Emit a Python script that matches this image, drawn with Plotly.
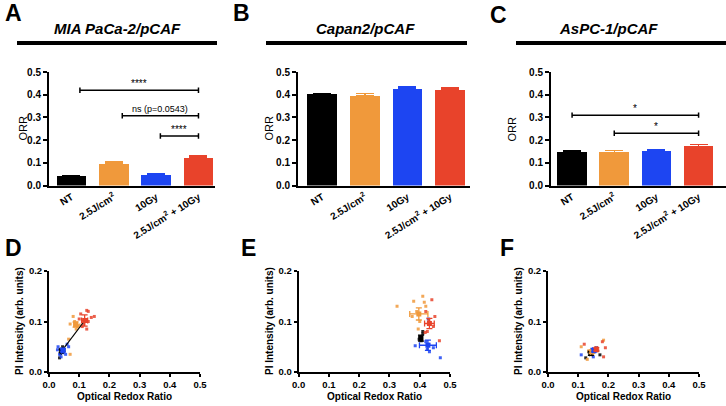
import plotly.graph_objects as go

W, H = 726, 406

# ---------------- data ----------------
categories = ["NT", "2.5J/cm<sup>2</sup>", "10Gy", "2.5J/cm<sup>2</sup> + 10Gy"]
colors = ["#000000", "#F0993B", "#1D45F2", "#E8432B"]
bar_titles = ["MIA PaCa-2/pCAF", "Capan2/pCAF", "AsPC-1/pCAF"]

orr_a = [0.042, 0.095, 0.048, 0.122]
err_a = [0.003, 0.008, 0.004, 0.009]
orr_b = [0.401, 0.394, 0.426, 0.422]
err_b = [0.004, 0.012, 0.009, 0.007]
orr_c = [0.149, 0.146, 0.153, 0.172]
err_c = [0.004, 0.008, 0.004, 0.009]

# significance brackets: (x start, x end, y, label)
brackets_a = [(0.2, 3.0, 0.42, "****"), (1.2, 3.0, 0.307, "ns (p=0.0543)"), (2.1, 3.0, 0.218, "****")]
brackets_b = []
brackets_c = [(0.0, 3.0, 0.31, "*"), (1.0, 3.0, 0.23, "*")]

# scatter panels: per group individual points (ORR, PI) and mean +/- error
d_pts = {
    "NT": ([0.040, 0.045, 0.035, 0.050, 0.045, 0.038], [0.045, 0.040, 0.028, 0.042, 0.050, 0.036]),
    "2.5": ([0.085, 0.070, 0.095, 0.080, 0.065, 0.070, 0.090, 0.100], [0.100, 0.095, 0.090, 0.110, 0.065, 0.035, 0.085, 0.093]),
    "10": ([0.030, 0.035, 0.050, 0.060, 0.045, 0.055, 0.040, 0.065, 0.028], [0.050, 0.035, 0.045, 0.055, 0.038, 0.035, 0.030, 0.050, 0.044]),
    "combo": ([0.105, 0.125, 0.130, 0.150, 0.140, 0.110, 0.125, 0.115, 0.100, 0.130], [0.115, 0.122, 0.120, 0.110, 0.108, 0.090, 0.085, 0.095, 0.105, 0.100]),
}
d_means = {"NT": (0.042, 0.042, 0.004, 0.003), "2.5": (0.088, 0.094, 0.005, 0.005),
           "10": (0.046, 0.043, 0.004, 0.003), "combo": (0.118, 0.102, 0.010, 0.011)}
d_fit_x = [0.040, 0.116]
d_fit_y = [0.040, 0.100]

e_pts = {
    "NT": ([0.400, 0.410, 0.405, 0.398, 0.410], [0.070, 0.075, 0.062, 0.065, 0.080]),
    "2.5": ([0.325, 0.380, 0.410, 0.415, 0.390, 0.400, 0.375, 0.420, 0.395], [0.130, 0.140, 0.150, 0.138, 0.120, 0.100, 0.110, 0.130, 0.085]),
    "10": ([0.385, 0.430, 0.425, 0.445, 0.468, 0.420, 0.428, 0.432], [0.052, 0.055, 0.045, 0.048, 0.028, 0.060, 0.105, 0.040]),
    "combo": ([0.440, 0.420, 0.430, 0.465, 0.445, 0.425, 0.418, 0.450], [0.143, 0.120, 0.103, 0.062, 0.090, 0.080, 0.078, 0.110]),
}
e_means = {"NT": (0.404, 0.067, 0.004, 0.006), "2.5": (0.397, 0.115, 0.030, 0.012),
           "10": (0.427, 0.053, 0.028, 0.010), "combo": (0.432, 0.096, 0.016, 0.010)}

f_pts = {
    "NT": ([0.140, 0.172, 0.125, 0.145, 0.135], [0.035, 0.034, 0.028, 0.042, 0.040]),
    "2.5": ([0.184, 0.130, 0.110, 0.150, 0.135, 0.160], [0.063, 0.025, 0.050, 0.040, 0.042, 0.048]),
    "10": ([0.110, 0.150, 0.160, 0.155, 0.145], [0.034, 0.030, 0.048, 0.040, 0.045]),
    "combo": ([0.120, 0.180, 0.190, 0.184, 0.160, 0.165], [0.055, 0.060, 0.048, 0.030, 0.045, 0.042]),
}
f_means = {"NT": (0.142, 0.037, 0.004, 0.004), "2.5": (0.145, 0.040, 0.004, 0.003),
           "10": (0.152, 0.043, 0.004, 0.003), "combo": (0.160, 0.045, 0.004, 0.003)}

groups = ["NT", "2.5", "10", "combo"]
group_color = dict(zip(groups, colors))

# ---------------- layout geometry ----------------
def px_x(p):
    return p / W

def px_y(p):
    return 1 - p / H

bar_xdom = [[px_x(49), px_x(215)], [px_x(298), px_x(470)], [px_x(551), 1.0]]
bar_xrng = [[-0.53, 3.39], [-0.57, 3.47], [-0.5, 3.65]]
bar_ydom = [px_y(185.5), px_y(72)]

sc_xdom = [[px_x(49), px_x(200)], [px_x(298.7), px_x(450)], [px_x(548), px_x(699)]]
sc_ydom = [px_y(372), px_y(271)]

FONT = "Liberation Sans"
fig = go.Figure()
layout = dict(width=W, height=H, margin=dict(l=0, r=0, t=0, b=0, pad=0, autoexpand=False),
              paper_bgcolor="white", plot_bgcolor="white", showlegend=False,
              font=dict(family=FONT, color="black"))
shapes = []
annotations = []

axis_common = dict(showgrid=False, zeroline=False, showline=True, linecolor="black", linewidth=2,
                   ticks="outside", ticklen=4, tickwidth=2, tickcolor="black", automargin=False,
                   tickfont=dict(family=FONT, size=10, color="black", weight="bold"))

bar_data = [(orr_a, err_a, brackets_a), (orr_b, err_b, brackets_b), (orr_c, err_c, brackets_c)]
for i, (vals, errs, brs) in enumerate(bar_data):
    n = i + 1
    xa = "x" if n == 1 else f"x{n}"
    ya = "y" if n == 1 else f"y{n}"
    for j in range(4):
        fig.add_trace(go.Bar(x=[j], y=[vals[j]], width=0.7, marker=dict(color=colors[j], line=dict(width=0)),
                             error_y=dict(type="data", array=[errs[j]], arrayminus=[0], symmetric=False,
                                          color=colors[j], thickness=1.5, width=9),
                             xaxis=xa, yaxis=ya))
    layout["xaxis" if n == 1 else f"xaxis{n}"] = dict(axis_common, domain=bar_xdom[i], range=bar_xrng[i],
                                                      anchor=ya, tickvals=[0, 1, 2, 3], ticktext=categories,
                                                      tickangle=-32, ticks="")
    layout["yaxis" if n == 1 else f"yaxis{n}"] = dict(axis_common, domain=bar_ydom, range=[0, 0.5],
                                                      anchor=xa, dtick=0.1, tickformat=".1f")
    for (x0, x1, yv, lab) in brs:
        shapes.append(dict(type="line", xref=xa, yref=ya, x0=x0, x1=x1, y0=yv, y1=yv,
                           line=dict(color="black", width=1.5)))
        for xe in (x0, x1):
            shapes.append(dict(type="line", xref=xa, yref=ya, x0=xe, x1=xe, y0=yv - 0.012, y1=yv + 0.012,
                               line=dict(color="black", width=1.5)))
        annotations.append(dict(xref=xa, yref=ya, x=(x0 + x1) / 2, y=yv, yshift=7, text=lab,
                                showarrow=False, font=dict(size=9 if lab.startswith("ns") else 10, color="black"),
                                yanchor="middle"))

# scatter panels
sc_tickfont = dict(family=FONT, size=9.5, color="black", weight="bold")
sc_data = [(d_pts, d_means), (e_pts, e_means), (f_pts, f_means)]
for i, (pts, means) in enumerate(sc_data):
    n = i + 4
    xa, ya = f"x{n}", f"y{n}"
    for g in groups:
        xs, ys = pts[g]
        fig.add_trace(go.Scatter(x=xs, y=ys, mode="markers", xaxis=xa, yaxis=ya,
                                 marker=dict(symbol="square", size=3, color=group_color[g], opacity=0.85)))
    if i == 0:
        fig.add_trace(go.Scatter(x=d_fit_x, y=d_fit_y, mode="lines", xaxis=xa, yaxis=ya,
                                 line=dict(color="black", width=1.2)))
    for g in groups:
        mx, my, ex, ey = means[g]
        fig.add_trace(go.Scatter(x=[mx], y=[my], mode="markers", xaxis=xa, yaxis=ya,
                                 marker=dict(symbol="square", size=5, color=group_color[g]),
                                 error_x=dict(type="data", array=[ex], color=group_color[g], thickness=1.3, width=3),
                                 error_y=dict(type="data", array=[ey], color=group_color[g], thickness=1.3, width=3)))
    layout[f"xaxis{n}"] = dict(axis_common, domain=sc_xdom[i], range=[0, 0.5], anchor=ya,
                               dtick=0.1, tickformat=".1f", ticklen=3, tickfont=sc_tickfont)
    layout[f"yaxis{n}"] = dict(axis_common, domain=sc_ydom, range=[0, 0.2], anchor=xa,
                               dtick=0.1, tickformat=".1f", ticklen=3, tickfont=sc_tickfont)

# titles and rules above bar panels
title_cx = [117, 365, 608]
rule_x = [(17, 217), (266, 467), (516, 726)]
for i in range(3):
    annotations.append(dict(xref="paper", yref="paper", x=px_x(title_cx[i]), y=px_y(29),
                            text=f"<b><i>{bar_titles[i]}</i></b>", showarrow=False,
                            font=dict(size=15, color="black"), xanchor="center", yanchor="middle"))
    shapes.append(dict(type="line", xref="paper", yref="paper", x0=px_x(rule_x[i][0]), x1=px_x(rule_x[i][1]),
                       y0=px_y(43), y1=px_y(43), line=dict(color="black", width=4)))

# panel letters
letters = [("A", 13, 13), ("B", 241, 13), ("C", 498, 15), ("D", 13, 248), ("E", 248, 248), ("F", 507, 248)]
for t, cx, cy in letters:
    annotations.append(dict(xref="paper", yref="paper", x=px_x(cx), y=px_y(cy), text=f"<b>{t}</b>",
                            showarrow=False, font=dict(size=23, color="black"), xanchor="center", yanchor="middle"))

# axis titles
for cx in [22, 268, 511]:
    annotations.append(dict(xref="paper", yref="paper", x=px_x(cx), y=px_y(128.5), text="ORR",
                            showarrow=False, textangle=-90, font=dict(size=11, color="black"),
                            xanchor="center", yanchor="middle"))
for cx in [19, 269, 518]:
    annotations.append(dict(xref="paper", yref="paper", x=px_x(cx), y=px_y(321), text="<b>PI Intensity (arb. units)</b>",
                            showarrow=False, textangle=-90, font=dict(size=10, color="black"),
                            xanchor="center", yanchor="middle"))
for cx in [124.5, 374, 623.5]:
    annotations.append(dict(xref="paper", yref="paper", x=px_x(cx), y=px_y(396.5), text="<b>Optical Redox Ratio</b>",
                            showarrow=False, font=dict(size=10, color="black"),
                            xanchor="center", yanchor="middle"))

layout["shapes"] = shapes
layout["annotations"] = annotations
layout["bargap"] = 0
fig.update_layout(**layout)
fig.write_html("out.html", config={"displayModeBar": False},
               post_script="document.body.style.margin='0px';document.body.style.overflow='hidden';")
